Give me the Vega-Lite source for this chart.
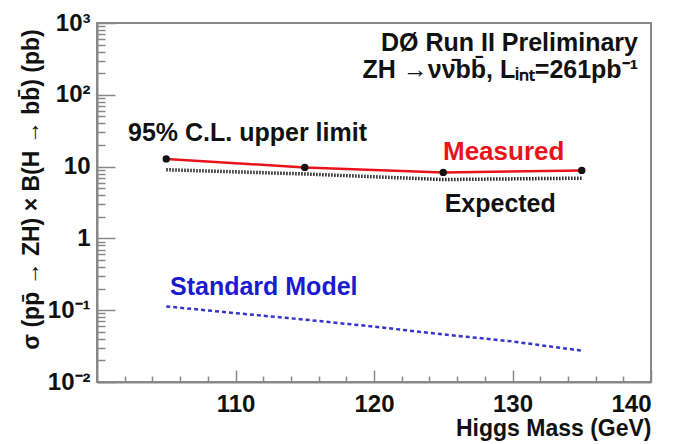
{
  "$schema": "https://vega.github.io/schema/vega-lite/v6.json",
  "width": 554,
  "height": 359,
  "autosize": {"type": "none"},
  "padding": {"left": 97, "top": 23, "right": 25, "bottom": 62},
  "background": "white",
  "config": {
    "view": {"stroke": "#888888", "strokeWidth": 2},
    "axis": {
      "grid": false,
      "domainColor": "#888888",
      "domainWidth": 2,
      "tickColor": "#888888",
      "tickWidth": 1.5,
      "labelFont": "Liberation Sans",
      "labelFontWeight": "bold",
      "labelColor": "#111111",
      "titleFont": "Liberation Sans",
      "titleFontWeight": "bold",
      "titleColor": "#111111"
    },
    "text": {"font": "Liberation Sans", "fontWeight": "bold", "fontSize": 25}
  },
  "datasets": {
    "curves": [
      {"series": "Measured", "mass": 105, "xsec": 12.8},
      {"series": "Measured", "mass": 115, "xsec": 9.75},
      {"series": "Measured", "mass": 125, "xsec": 8.3},
      {"series": "Measured", "mass": 135, "xsec": 8.85},
      {"series": "Expected", "mass": 105, "xsec": 9.05},
      {"series": "Expected", "mass": 115, "xsec": 7.9},
      {"series": "Expected", "mass": 125, "xsec": 6.6},
      {"series": "Expected", "mass": 135, "xsec": 6.9},
      {"series": "SM", "mass": 105, "xsec": 0.113},
      {"series": "SM", "mass": 110, "xsec": 0.091},
      {"series": "SM", "mass": 115, "xsec": 0.074},
      {"series": "SM", "mass": 120, "xsec": 0.059},
      {"series": "SM", "mass": 125, "xsec": 0.046},
      {"series": "SM", "mass": 130, "xsec": 0.0367},
      {"series": "SM", "mass": 135, "xsec": 0.0273}
    ],
    "labels": [
      {"key": "dzero", "text": "DØ Run II  Preliminary", "mass": 139.06, "xsec": 532},
      {"key": "channel", "text": "ZH →νν̄bb̄, Lᵢₙₜ=261pb⁻¹", "mass": 139.06, "xsec": 224},
      {"key": "cl", "text": "95% C.L. upper limit", "mass": 102.24, "xsec": 29.6},
      {"key": "measured", "text": "Measured", "mass": 124.98, "xsec": 16.1},
      {"key": "expected", "text": "Expected", "mass": 125.1, "xsec": 3.04},
      {"key": "sm", "text": "Standard Model", "mass": 105.27, "xsec": 0.212}
    ]
  },
  "resolve": {"axis": {"x": "independent", "y": "independent"}},
  "layer": [
    {
      "data": {"name": "curves"},
      "transform": [{"filter": "datum.series == 'SM'"}],
      "mark": {"type": "line", "color": "#3535cc", "strokeWidth": 2.5, "strokeDash": [4, 3]},
      "encoding": {
        "x": {
          "field": "mass", "type": "quantitative",
          "scale": {"domain": [100, 140], "nice": false, "zero": false},
          "axis": {
            "orient": "bottom",
            "values": [110, 120, 130, 140],
            "tickSize": -12,
            "labelFontSize": 24,
            "labelPadding": 22,
            "title": "Higgs Mass (GeV)",
            "titleFontSize": 23,
            "titleAnchor": "end",
            "titleAlign": "right",
            "titleBaseline": "alphabetic",
            "titleX": 554,
            "titleY": 53
          }
        },
        "y": {
          "field": "xsec", "type": "quantitative",
          "scale": {"type": "log", "domain": [0.01, 1000], "nice": false},
          "axis": {
            "orient": "left",
            "values": [0.01, 0.1, 1, 10, 100, 1000],
            "labelExpr": "datum.value < 0.05 ? '10⁻²' : datum.value < 0.5 ? '10⁻¹' : datum.value < 5 ? '1' : datum.value < 50 ? '10' : datum.value < 500 ? '10²' : '10³'",
            "tickSize": -18,
            "labelFontSize": 24,
            "labelPadding": 25,
            "title": "σ (pp̄ → ZH) × B(H → bb̄) (pb)",
            "titleFontSize": 23,
            "titleAngle": -90,
            "titleAlign": "center",
            "titleBaseline": "middle",
            "titleX": -66,
            "titleY": 166
          }
        }
      }
    },
    {
      "data": {"name": "curves"},
      "transform": [{"filter": "datum.series == 'Expected'"}],
      "mark": {"type": "line", "color": "#222222", "strokeWidth": 3.5, "strokeDash": [1.5, 1.5]},
      "encoding": {
        "x": {
          "field": "mass", "type": "quantitative",
          "scale": {"domain": [100, 140], "nice": false, "zero": false},
          "axis": {
            "orient": "bottom",
            "values": [102, 104, 106, 108, 112, 114, 116, 118, 122, 124, 126, 128, 132, 134, 136, 138],
            "labels": false,
            "domain": false,
            "tickSize": -6,
            "title": null
          }
        },
        "y": {
          "field": "xsec", "type": "quantitative",
          "scale": {"type": "log", "domain": [0.01, 1000], "nice": false},
          "axis": {
            "orient": "left",
            "values": [0.02, 0.03, 0.04, 0.05, 0.06, 0.07, 0.08, 0.09, 0.2, 0.3, 0.4, 0.5, 0.6, 0.7, 0.8, 0.9, 2, 3, 4, 5, 6, 7, 8, 9, 20, 30, 40, 50, 60, 70, 80, 90, 200, 300, 400, 500, 600, 700, 800, 900],
            "labels": false,
            "domain": false,
            "tickSize": -8,
            "title": null
          }
        }
      }
    },
    {
      "data": {"name": "curves"},
      "transform": [{"filter": "datum.series == 'Measured'"}],
      "mark": {"type": "line", "color": "#e8141c", "strokeWidth": 2.5},
      "encoding": {
        "x": {"field": "mass", "type": "quantitative", "scale": {"domain": [100, 140], "nice": false, "zero": false}, "axis": null},
        "y": {"field": "xsec", "type": "quantitative", "scale": {"type": "log", "domain": [0.01, 1000], "nice": false}, "axis": null}
      }
    },
    {
      "data": {"name": "curves"},
      "transform": [{"filter": "datum.series == 'Measured'"}],
      "mark": {"type": "point", "filled": true, "color": "#111111", "size": 55, "opacity": 1},
      "encoding": {
        "x": {"field": "mass", "type": "quantitative", "axis": null},
        "y": {"field": "xsec", "type": "quantitative", "axis": null}
      }
    },
    {
      "data": {"name": "labels"},
      "transform": [{"filter": "datum.key == 'dzero' || datum.key == 'channel'"}],
      "mark": {"type": "text", "align": "right", "baseline": "middle", "color": "#111111"},
      "encoding": {
        "x": {"field": "mass", "type": "quantitative", "axis": null},
        "y": {"field": "xsec", "type": "quantitative", "axis": null},
        "text": {"field": "text"}
      }
    },
    {
      "data": {"name": "labels"},
      "transform": [{"filter": "datum.key == 'cl' || datum.key == 'expected'"}],
      "mark": {"type": "text", "align": "left", "baseline": "middle", "color": "#111111"},
      "encoding": {
        "x": {"field": "mass", "type": "quantitative", "axis": null},
        "y": {"field": "xsec", "type": "quantitative", "axis": null},
        "text": {"field": "text"}
      }
    },
    {
      "data": {"name": "labels"},
      "transform": [{"filter": "datum.key == 'measured'"}],
      "mark": {"type": "text", "align": "left", "baseline": "middle", "color": "#e8141c", "fontSize": 26},
      "encoding": {
        "x": {"field": "mass", "type": "quantitative", "axis": null},
        "y": {"field": "xsec", "type": "quantitative", "axis": null},
        "text": {"field": "text"}
      }
    },
    {
      "data": {"name": "labels"},
      "transform": [{"filter": "datum.key == 'sm'"}],
      "mark": {"type": "text", "align": "left", "baseline": "middle", "color": "#1a1ad0"},
      "encoding": {
        "x": {"field": "mass", "type": "quantitative", "axis": null},
        "y": {"field": "xsec", "type": "quantitative", "axis": null},
        "text": {"field": "text"}
      }
    }
  ]
}
